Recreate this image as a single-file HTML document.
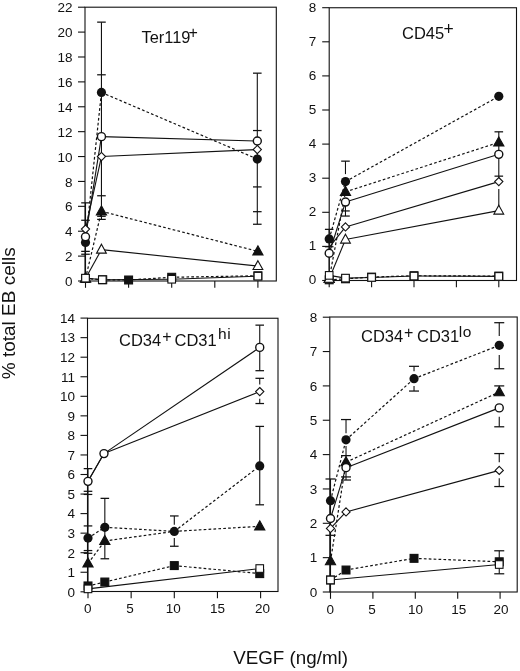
<!DOCTYPE html>
<html><head><meta charset="utf-8"><style>
html,body{margin:0;padding:0;background:#fff;}
svg{display:block;will-change:transform;}
text{font-family:"Liberation Sans",sans-serif;fill:#111;}
</style></head><body>
<svg width="520" height="671" viewBox="0 0 520 671">
<rect width="520" height="671" fill="#fff"/>
<rect x="85" y="7.2" width="191.3" height="273.8" fill="none" stroke="#111" stroke-width="1.1"/>
<line x1="78.00" y1="281.00" x2="85.00" y2="281.00" stroke="#111" stroke-width="1.1"/>
<text x="72.50" y="286.10" font-size="13.5" text-anchor="end" >0</text>
<line x1="78.00" y1="256.11" x2="85.00" y2="256.11" stroke="#111" stroke-width="1.1"/>
<text x="72.50" y="261.21" font-size="13.5" text-anchor="end" >2</text>
<line x1="78.00" y1="231.22" x2="85.00" y2="231.22" stroke="#111" stroke-width="1.1"/>
<text x="72.50" y="236.32" font-size="13.5" text-anchor="end" >4</text>
<line x1="78.00" y1="206.33" x2="85.00" y2="206.33" stroke="#111" stroke-width="1.1"/>
<text x="72.50" y="211.43" font-size="13.5" text-anchor="end" >6</text>
<line x1="78.00" y1="181.44" x2="85.00" y2="181.44" stroke="#111" stroke-width="1.1"/>
<text x="72.50" y="186.54" font-size="13.5" text-anchor="end" >8</text>
<line x1="78.00" y1="156.55" x2="85.00" y2="156.55" stroke="#111" stroke-width="1.1"/>
<text x="72.50" y="161.65" font-size="13.5" text-anchor="end" >10</text>
<line x1="78.00" y1="131.66" x2="85.00" y2="131.66" stroke="#111" stroke-width="1.1"/>
<text x="72.50" y="136.76" font-size="13.5" text-anchor="end" >12</text>
<line x1="78.00" y1="106.77" x2="85.00" y2="106.77" stroke="#111" stroke-width="1.1"/>
<text x="72.50" y="111.87" font-size="13.5" text-anchor="end" >14</text>
<line x1="78.00" y1="81.88" x2="85.00" y2="81.88" stroke="#111" stroke-width="1.1"/>
<text x="72.50" y="86.98" font-size="13.5" text-anchor="end" >16</text>
<line x1="78.00" y1="56.99" x2="85.00" y2="56.99" stroke="#111" stroke-width="1.1"/>
<text x="72.50" y="62.09" font-size="13.5" text-anchor="end" >18</text>
<line x1="78.00" y1="32.10" x2="85.00" y2="32.10" stroke="#111" stroke-width="1.1"/>
<text x="72.50" y="37.20" font-size="13.5" text-anchor="end" >20</text>
<line x1="78.00" y1="7.21" x2="85.00" y2="7.21" stroke="#111" stroke-width="1.1"/>
<text x="72.50" y="12.31" font-size="13.5" text-anchor="end" >22</text>
<line x1="85.50" y1="281.00" x2="85.50" y2="287.80" stroke="#111" stroke-width="1.1"/>
<line x1="128.60" y1="281.00" x2="128.60" y2="287.80" stroke="#111" stroke-width="1.1"/>
<line x1="171.70" y1="281.00" x2="171.70" y2="287.80" stroke="#111" stroke-width="1.1"/>
<line x1="214.80" y1="281.00" x2="214.80" y2="287.80" stroke="#111" stroke-width="1.1"/>
<line x1="257.90" y1="281.00" x2="257.90" y2="287.80" stroke="#111" stroke-width="1.1"/>
<line x1="85.50" y1="281.00" x2="85.50" y2="202.85" stroke="#111" stroke-width="1.1"/>
<line x1="81.20" y1="202.85" x2="89.80" y2="202.85" stroke="#111" stroke-width="1.25"/>
<line x1="81.20" y1="220.27" x2="89.80" y2="220.27" stroke="#111" stroke-width="1.25"/>
<line x1="81.20" y1="251.38" x2="89.80" y2="251.38" stroke="#111" stroke-width="1.25"/>
<line x1="81.20" y1="254.24" x2="89.80" y2="254.24" stroke="#111" stroke-width="1.25"/>
<line x1="101.45" y1="219.40" x2="101.45" y2="22.14" stroke="#111" stroke-width="1.1"/>
<line x1="97.15" y1="22.14" x2="105.75" y2="22.14" stroke="#111" stroke-width="1.25"/>
<line x1="97.15" y1="74.79" x2="105.75" y2="74.79" stroke="#111" stroke-width="1.25"/>
<line x1="97.15" y1="195.75" x2="105.75" y2="195.75" stroke="#111" stroke-width="1.25"/>
<line x1="97.15" y1="216.29" x2="105.75" y2="216.29" stroke="#111" stroke-width="1.25"/>
<line x1="97.15" y1="219.40" x2="105.75" y2="219.40" stroke="#111" stroke-width="1.25"/>
<line x1="257.30" y1="224.25" x2="257.30" y2="73.17" stroke="#111" stroke-width="1.1"/>
<line x1="253.00" y1="73.17" x2="261.60" y2="73.17" stroke="#111" stroke-width="1.25"/>
<line x1="253.00" y1="130.54" x2="261.60" y2="130.54" stroke="#111" stroke-width="1.25"/>
<line x1="253.00" y1="186.92" x2="261.60" y2="186.92" stroke="#111" stroke-width="1.25"/>
<line x1="253.00" y1="211.68" x2="261.60" y2="211.68" stroke="#111" stroke-width="1.25"/>
<line x1="253.00" y1="224.25" x2="261.60" y2="224.25" stroke="#111" stroke-width="1.25"/>
<line x1="85.50" y1="278.51" x2="102.74" y2="279.76" stroke="#111" stroke-width="1.2" stroke-dasharray="2.7 2.2"/>
<line x1="102.74" y1="279.76" x2="128.60" y2="280.00" stroke="#111" stroke-width="1.2" stroke-dasharray="2.7 2.2"/>
<line x1="128.60" y1="280.00" x2="171.70" y2="277.27" stroke="#111" stroke-width="1.2" stroke-dasharray="2.7 2.2"/>
<line x1="171.70" y1="277.27" x2="257.90" y2="275.77" stroke="#111" stroke-width="1.2" stroke-dasharray="2.7 2.2"/>
<line x1="85.50" y1="278.51" x2="101.45" y2="211.31" stroke="#111" stroke-width="1.2" stroke-dasharray="2.7 2.2"/>
<line x1="101.45" y1="211.31" x2="257.90" y2="251.38" stroke="#111" stroke-width="1.2" stroke-dasharray="2.7 2.2"/>
<line x1="85.50" y1="242.42" x2="101.45" y2="92.46" stroke="#111" stroke-width="1.2" stroke-dasharray="2.7 2.2"/>
<line x1="101.45" y1="92.46" x2="257.30" y2="159.04" stroke="#111" stroke-width="1.2" stroke-dasharray="2.7 2.2"/>
<line x1="85.50" y1="278.51" x2="101.45" y2="249.64" stroke="#111" stroke-width="1.1"/>
<line x1="101.45" y1="249.64" x2="257.90" y2="266.07" stroke="#111" stroke-width="1.1"/>
<line x1="85.50" y1="229.10" x2="101.45" y2="156.55" stroke="#111" stroke-width="1.1"/>
<line x1="101.45" y1="156.55" x2="257.30" y2="149.58" stroke="#111" stroke-width="1.1"/>
<line x1="85.50" y1="236.82" x2="101.45" y2="136.64" stroke="#111" stroke-width="1.1"/>
<line x1="101.45" y1="136.64" x2="257.30" y2="140.99" stroke="#111" stroke-width="1.1"/>
<line x1="85.50" y1="278.14" x2="102.31" y2="279.76" stroke="#111" stroke-width="1.1"/>
<line x1="102.31" y1="279.76" x2="171.70" y2="279.26" stroke="#111" stroke-width="1.1"/>
<line x1="171.70" y1="279.26" x2="257.90" y2="276.15" stroke="#111" stroke-width="1.1"/>
<rect x="81.55" y="274.56" width="7.90" height="7.90" fill="#111" stroke="#111" stroke-width="1.1"/>
<rect x="98.79" y="275.81" width="7.90" height="7.90" fill="#111" stroke="#111" stroke-width="1.1"/>
<rect x="124.65" y="276.05" width="7.90" height="7.90" fill="#111" stroke="#111" stroke-width="1.1"/>
<rect x="167.75" y="273.32" width="7.90" height="7.90" fill="#111" stroke="#111" stroke-width="1.1"/>
<rect x="253.95" y="271.82" width="7.90" height="7.90" fill="#111" stroke="#111" stroke-width="1.1"/>
<path d="M85.50 273.01 L90.60 282.11 L80.40 282.11 Z" fill="#111" stroke="#111" stroke-width="1.1"/>
<path d="M101.45 205.81 L106.55 214.91 L96.35 214.91 Z" fill="#111" stroke="#111" stroke-width="1.1"/>
<path d="M257.90 245.88 L263.00 254.98 L252.80 254.98 Z" fill="#111" stroke="#111" stroke-width="1.1"/>
<circle cx="85.50" cy="242.42" r="4.6" fill="#111"/>
<circle cx="101.45" cy="92.46" r="4.6" fill="#111"/>
<circle cx="257.30" cy="159.04" r="4.6" fill="#111"/>
<path d="M85.50 273.11 L90.40 282.01 L80.60 282.01 Z" fill="#fff" stroke="#111" stroke-width="1.1"/>
<path d="M101.45 244.24 L106.35 253.14 L96.55 253.14 Z" fill="#fff" stroke="#111" stroke-width="1.1"/>
<path d="M257.90 260.67 L262.80 269.57 L253.00 269.57 Z" fill="#fff" stroke="#111" stroke-width="1.1"/>
<path d="M85.50 225.00 L89.60 229.10 L85.50 233.20 L81.40 229.10 Z" fill="#fff" stroke="#111" stroke-width="1.1"/>
<path d="M101.45 152.45 L105.55 156.55 L101.45 160.65 L97.35 156.55 Z" fill="#fff" stroke="#111" stroke-width="1.1"/>
<path d="M257.30 145.48 L261.40 149.58 L257.30 153.68 L253.20 149.58 Z" fill="#fff" stroke="#111" stroke-width="1.1"/>
<circle cx="85.50" cy="236.82" r="4.0" fill="#fff" stroke="#111" stroke-width="1.4"/>
<circle cx="101.45" cy="136.64" r="4.0" fill="#fff" stroke="#111" stroke-width="1.4"/>
<circle cx="257.30" cy="140.99" r="4.0" fill="#fff" stroke="#111" stroke-width="1.4"/>
<rect x="81.70" y="274.34" width="7.60" height="7.60" fill="#fff" stroke="#111" stroke-width="1.1"/>
<rect x="98.51" y="275.96" width="7.60" height="7.60" fill="#fff" stroke="#111" stroke-width="1.1"/>
<rect x="167.90" y="275.46" width="7.60" height="7.60" fill="#fff" stroke="#111" stroke-width="1.1"/>
<rect x="254.10" y="272.35" width="7.60" height="7.60" fill="#fff" stroke="#111" stroke-width="1.1"/>
<text x="141.5" y="43.2" font-size="16.4">Ter119</text><text x="188.6" y="37.6" font-size="16">+</text>
<rect x="329.2" y="7.75" width="187.3" height="272.75" fill="none" stroke="#111" stroke-width="1.1"/>
<line x1="322.20" y1="280.50" x2="329.20" y2="280.50" stroke="#111" stroke-width="1.1"/>
<text x="316.30" y="284.30" font-size="13.5" text-anchor="end" >0</text>
<line x1="322.20" y1="246.40" x2="329.20" y2="246.40" stroke="#111" stroke-width="1.1"/>
<text x="316.30" y="250.20" font-size="13.5" text-anchor="end" >1</text>
<line x1="322.20" y1="212.30" x2="329.20" y2="212.30" stroke="#111" stroke-width="1.1"/>
<text x="316.30" y="216.10" font-size="13.5" text-anchor="end" >2</text>
<line x1="322.20" y1="178.20" x2="329.20" y2="178.20" stroke="#111" stroke-width="1.1"/>
<text x="316.30" y="182.00" font-size="13.5" text-anchor="end" >3</text>
<line x1="322.20" y1="144.10" x2="329.20" y2="144.10" stroke="#111" stroke-width="1.1"/>
<text x="316.30" y="147.90" font-size="13.5" text-anchor="end" >4</text>
<line x1="322.20" y1="110.00" x2="329.20" y2="110.00" stroke="#111" stroke-width="1.1"/>
<text x="316.30" y="113.80" font-size="13.5" text-anchor="end" >5</text>
<line x1="322.20" y1="75.90" x2="329.20" y2="75.90" stroke="#111" stroke-width="1.1"/>
<text x="316.30" y="79.70" font-size="13.5" text-anchor="end" >6</text>
<line x1="322.20" y1="41.80" x2="329.20" y2="41.80" stroke="#111" stroke-width="1.1"/>
<text x="316.30" y="45.60" font-size="13.5" text-anchor="end" >7</text>
<line x1="322.20" y1="7.70" x2="329.20" y2="7.70" stroke="#111" stroke-width="1.1"/>
<text x="316.30" y="11.50" font-size="13.5" text-anchor="end" >8</text>
<line x1="329.20" y1="280.50" x2="329.20" y2="287.30" stroke="#111" stroke-width="1.1"/>
<line x1="371.60" y1="280.50" x2="371.60" y2="287.30" stroke="#111" stroke-width="1.1"/>
<line x1="414.00" y1="280.50" x2="414.00" y2="287.30" stroke="#111" stroke-width="1.1"/>
<line x1="456.40" y1="280.50" x2="456.40" y2="287.30" stroke="#111" stroke-width="1.1"/>
<line x1="498.80" y1="280.50" x2="498.80" y2="287.30" stroke="#111" stroke-width="1.1"/>
<line x1="329.20" y1="280.50" x2="329.20" y2="229.35" stroke="#111" stroke-width="1.1"/>
<line x1="324.90" y1="229.35" x2="333.50" y2="229.35" stroke="#111" stroke-width="1.25"/>
<line x1="324.90" y1="246.74" x2="333.50" y2="246.74" stroke="#111" stroke-width="1.25"/>
<line x1="345.48" y1="174.11" x2="345.48" y2="161.15" stroke="#111" stroke-width="1.1"/>
<line x1="341.18" y1="161.15" x2="349.78" y2="161.15" stroke="#111" stroke-width="1.25"/>
<line x1="345.48" y1="216.05" x2="345.48" y2="202.07" stroke="#111" stroke-width="1.1"/>
<line x1="341.18" y1="210.94" x2="349.78" y2="210.94" stroke="#111" stroke-width="1.25"/>
<line x1="341.18" y1="216.05" x2="349.78" y2="216.05" stroke="#111" stroke-width="1.25"/>
<line x1="498.80" y1="210.59" x2="498.80" y2="189.11" stroke="#111" stroke-width="1.1"/>
<line x1="498.80" y1="181.61" x2="498.80" y2="131.82" stroke="#111" stroke-width="1.1"/>
<line x1="494.50" y1="131.82" x2="503.10" y2="131.82" stroke="#111" stroke-width="1.25"/>
<line x1="494.50" y1="176.15" x2="503.10" y2="176.15" stroke="#111" stroke-width="1.25"/>
<line x1="329.20" y1="279.82" x2="345.48" y2="278.80" stroke="#111" stroke-width="1.2" stroke-dasharray="2.7 2.2"/>
<line x1="345.48" y1="278.80" x2="371.60" y2="277.09" stroke="#111" stroke-width="1.2" stroke-dasharray="2.7 2.2"/>
<line x1="371.60" y1="277.09" x2="414.00" y2="275.73" stroke="#111" stroke-width="1.2" stroke-dasharray="2.7 2.2"/>
<line x1="414.00" y1="275.73" x2="498.80" y2="276.07" stroke="#111" stroke-width="1.2" stroke-dasharray="2.7 2.2"/>
<line x1="329.20" y1="278.80" x2="345.48" y2="191.84" stroke="#111" stroke-width="1.2" stroke-dasharray="2.7 2.2"/>
<line x1="345.48" y1="191.84" x2="498.80" y2="142.40" stroke="#111" stroke-width="1.2" stroke-dasharray="2.7 2.2"/>
<line x1="329.20" y1="238.90" x2="345.48" y2="181.61" stroke="#111" stroke-width="1.2" stroke-dasharray="2.7 2.2"/>
<line x1="345.48" y1="181.61" x2="498.80" y2="96.36" stroke="#111" stroke-width="1.2" stroke-dasharray="2.7 2.2"/>
<line x1="329.20" y1="278.80" x2="345.48" y2="239.58" stroke="#111" stroke-width="1.1"/>
<line x1="345.48" y1="239.58" x2="498.80" y2="210.59" stroke="#111" stroke-width="1.1"/>
<line x1="329.20" y1="247.42" x2="345.48" y2="226.96" stroke="#111" stroke-width="1.1"/>
<line x1="345.48" y1="226.96" x2="498.80" y2="181.61" stroke="#111" stroke-width="1.1"/>
<line x1="329.20" y1="253.22" x2="345.48" y2="202.07" stroke="#111" stroke-width="1.1"/>
<line x1="345.48" y1="202.07" x2="498.80" y2="154.33" stroke="#111" stroke-width="1.1"/>
<line x1="329.20" y1="275.38" x2="345.48" y2="278.11" stroke="#111" stroke-width="1.1"/>
<line x1="345.48" y1="278.11" x2="371.60" y2="277.43" stroke="#111" stroke-width="1.1"/>
<line x1="371.60" y1="277.43" x2="414.00" y2="276.07" stroke="#111" stroke-width="1.1"/>
<line x1="414.00" y1="276.07" x2="498.80" y2="276.41" stroke="#111" stroke-width="1.1"/>
<rect x="325.25" y="275.87" width="7.90" height="7.90" fill="#111" stroke="#111" stroke-width="1.1"/>
<rect x="341.53" y="274.85" width="7.90" height="7.90" fill="#111" stroke="#111" stroke-width="1.1"/>
<rect x="367.65" y="273.14" width="7.90" height="7.90" fill="#111" stroke="#111" stroke-width="1.1"/>
<rect x="410.05" y="271.78" width="7.90" height="7.90" fill="#111" stroke="#111" stroke-width="1.1"/>
<rect x="494.85" y="272.12" width="7.90" height="7.90" fill="#111" stroke="#111" stroke-width="1.1"/>
<path d="M329.20 273.30 L334.30 282.40 L324.10 282.40 Z" fill="#111" stroke="#111" stroke-width="1.1"/>
<path d="M345.48 186.34 L350.58 195.44 L340.38 195.44 Z" fill="#111" stroke="#111" stroke-width="1.1"/>
<path d="M498.80 136.90 L503.90 146.00 L493.70 146.00 Z" fill="#111" stroke="#111" stroke-width="1.1"/>
<circle cx="329.20" cy="238.90" r="4.6" fill="#111"/>
<circle cx="345.48" cy="181.61" r="4.6" fill="#111"/>
<circle cx="498.80" cy="96.36" r="4.6" fill="#111"/>
<path d="M329.20 273.40 L334.10 282.30 L324.30 282.30 Z" fill="#fff" stroke="#111" stroke-width="1.1"/>
<path d="M345.48 234.18 L350.38 243.08 L340.58 243.08 Z" fill="#fff" stroke="#111" stroke-width="1.1"/>
<path d="M498.80 205.19 L503.70 214.09 L493.90 214.09 Z" fill="#fff" stroke="#111" stroke-width="1.1"/>
<path d="M345.48 222.86 L349.58 226.96 L345.48 231.06 L341.38 226.96 Z" fill="#fff" stroke="#111" stroke-width="1.1"/>
<path d="M498.80 177.51 L502.90 181.61 L498.80 185.71 L494.70 181.61 Z" fill="#fff" stroke="#111" stroke-width="1.1"/>
<circle cx="329.20" cy="253.22" r="4.0" fill="#fff" stroke="#111" stroke-width="1.4"/>
<circle cx="345.48" cy="202.07" r="4.0" fill="#fff" stroke="#111" stroke-width="1.4"/>
<circle cx="498.80" cy="154.33" r="4.0" fill="#fff" stroke="#111" stroke-width="1.4"/>
<rect x="325.40" y="271.58" width="7.60" height="7.60" fill="#fff" stroke="#111" stroke-width="1.1"/>
<rect x="341.68" y="274.31" width="7.60" height="7.60" fill="#fff" stroke="#111" stroke-width="1.1"/>
<rect x="367.80" y="273.63" width="7.60" height="7.60" fill="#fff" stroke="#111" stroke-width="1.1"/>
<rect x="410.20" y="272.27" width="7.60" height="7.60" fill="#fff" stroke="#111" stroke-width="1.1"/>
<rect x="495.00" y="272.61" width="7.60" height="7.60" fill="#fff" stroke="#111" stroke-width="1.1"/>
<text x="402" y="39" font-size="16.5">CD45</text><text x="443.6" y="35.2" font-size="17.5">+</text>
<rect x="87.5" y="318.25" width="190.5" height="273.25" fill="none" stroke="#111" stroke-width="1.1"/>
<line x1="80.50" y1="591.80" x2="87.50" y2="591.80" stroke="#111" stroke-width="1.1"/>
<text x="75.00" y="596.60" font-size="13.5" text-anchor="end" >0</text>
<line x1="80.50" y1="572.25" x2="87.50" y2="572.25" stroke="#111" stroke-width="1.1"/>
<text x="75.00" y="577.05" font-size="13.5" text-anchor="end" >1</text>
<line x1="80.50" y1="552.70" x2="87.50" y2="552.70" stroke="#111" stroke-width="1.1"/>
<text x="75.00" y="557.50" font-size="13.5" text-anchor="end" >2</text>
<line x1="80.50" y1="533.15" x2="87.50" y2="533.15" stroke="#111" stroke-width="1.1"/>
<text x="75.00" y="537.95" font-size="13.5" text-anchor="end" >3</text>
<line x1="80.50" y1="513.60" x2="87.50" y2="513.60" stroke="#111" stroke-width="1.1"/>
<text x="75.00" y="518.40" font-size="13.5" text-anchor="end" >4</text>
<line x1="80.50" y1="494.05" x2="87.50" y2="494.05" stroke="#111" stroke-width="1.1"/>
<text x="75.00" y="498.85" font-size="13.5" text-anchor="end" >5</text>
<line x1="80.50" y1="474.50" x2="87.50" y2="474.50" stroke="#111" stroke-width="1.1"/>
<text x="75.00" y="479.30" font-size="13.5" text-anchor="end" >6</text>
<line x1="80.50" y1="454.95" x2="87.50" y2="454.95" stroke="#111" stroke-width="1.1"/>
<text x="75.00" y="459.75" font-size="13.5" text-anchor="end" >7</text>
<line x1="80.50" y1="435.40" x2="87.50" y2="435.40" stroke="#111" stroke-width="1.1"/>
<text x="75.00" y="440.20" font-size="13.5" text-anchor="end" >8</text>
<line x1="80.50" y1="415.85" x2="87.50" y2="415.85" stroke="#111" stroke-width="1.1"/>
<text x="75.00" y="420.65" font-size="13.5" text-anchor="end" >9</text>
<line x1="80.50" y1="396.30" x2="87.50" y2="396.30" stroke="#111" stroke-width="1.1"/>
<text x="75.00" y="401.10" font-size="13.5" text-anchor="end" >10</text>
<line x1="80.50" y1="376.75" x2="87.50" y2="376.75" stroke="#111" stroke-width="1.1"/>
<text x="75.00" y="381.55" font-size="13.5" text-anchor="end" >11</text>
<line x1="80.50" y1="357.20" x2="87.50" y2="357.20" stroke="#111" stroke-width="1.1"/>
<text x="75.00" y="362.00" font-size="13.5" text-anchor="end" >12</text>
<line x1="80.50" y1="337.65" x2="87.50" y2="337.65" stroke="#111" stroke-width="1.1"/>
<text x="75.00" y="342.45" font-size="13.5" text-anchor="end" >13</text>
<line x1="80.50" y1="318.10" x2="87.50" y2="318.10" stroke="#111" stroke-width="1.1"/>
<text x="75.00" y="322.90" font-size="13.5" text-anchor="end" >14</text>
<line x1="88.00" y1="591.50" x2="88.00" y2="598.30" stroke="#111" stroke-width="1.1"/>
<text x="87.80" y="613.10" font-size="13.5" text-anchor="middle" >0</text>
<line x1="131.15" y1="591.50" x2="131.15" y2="598.30" stroke="#111" stroke-width="1.1"/>
<text x="130.10" y="613.10" font-size="13.5" text-anchor="middle" >5</text>
<line x1="174.30" y1="591.50" x2="174.30" y2="598.30" stroke="#111" stroke-width="1.1"/>
<text x="173.20" y="613.10" font-size="13.5" text-anchor="middle" >10</text>
<line x1="217.45" y1="591.50" x2="217.45" y2="598.30" stroke="#111" stroke-width="1.1"/>
<text x="217.60" y="613.10" font-size="13.5" text-anchor="middle" >15</text>
<line x1="260.60" y1="591.50" x2="260.60" y2="598.30" stroke="#111" stroke-width="1.1"/>
<text x="262.50" y="613.10" font-size="13.5" text-anchor="middle" >20</text>
<line x1="88.00" y1="591.80" x2="88.00" y2="468.63" stroke="#111" stroke-width="1.1"/>
<line x1="83.70" y1="468.63" x2="92.30" y2="468.63" stroke="#111" stroke-width="1.25"/>
<line x1="83.70" y1="491.31" x2="92.30" y2="491.31" stroke="#111" stroke-width="1.25"/>
<line x1="83.70" y1="494.44" x2="92.30" y2="494.44" stroke="#111" stroke-width="1.25"/>
<line x1="83.70" y1="525.92" x2="92.30" y2="525.92" stroke="#111" stroke-width="1.25"/>
<line x1="83.70" y1="550.55" x2="92.30" y2="550.55" stroke="#111" stroke-width="1.25"/>
<line x1="83.70" y1="553.29" x2="92.30" y2="553.29" stroke="#111" stroke-width="1.25"/>
<line x1="104.83" y1="558.76" x2="104.83" y2="498.35" stroke="#111" stroke-width="1.1"/>
<line x1="100.53" y1="498.35" x2="109.13" y2="498.35" stroke="#111" stroke-width="1.25"/>
<line x1="100.53" y1="558.76" x2="109.13" y2="558.76" stroke="#111" stroke-width="1.25"/>
<line x1="174.30" y1="524.74" x2="174.30" y2="515.95" stroke="#111" stroke-width="1.1"/>
<line x1="170.00" y1="515.95" x2="178.60" y2="515.95" stroke="#111" stroke-width="1.25"/>
<line x1="174.30" y1="546.25" x2="174.30" y2="538.04" stroke="#111" stroke-width="1.1"/>
<line x1="170.00" y1="546.25" x2="178.60" y2="546.25" stroke="#111" stroke-width="1.25"/>
<line x1="259.74" y1="504.80" x2="259.74" y2="426.41" stroke="#111" stroke-width="1.1"/>
<line x1="255.44" y1="426.41" x2="264.04" y2="426.41" stroke="#111" stroke-width="1.25"/>
<line x1="255.44" y1="504.80" x2="264.04" y2="504.80" stroke="#111" stroke-width="1.25"/>
<line x1="259.74" y1="370.69" x2="259.74" y2="325.14" stroke="#111" stroke-width="1.1"/>
<line x1="255.44" y1="325.14" x2="264.04" y2="325.14" stroke="#111" stroke-width="1.25"/>
<line x1="255.44" y1="370.69" x2="264.04" y2="370.69" stroke="#111" stroke-width="1.25"/>
<line x1="259.74" y1="384.57" x2="259.74" y2="378.31" stroke="#111" stroke-width="1.1"/>
<line x1="255.44" y1="378.31" x2="264.04" y2="378.31" stroke="#111" stroke-width="1.25"/>
<line x1="259.74" y1="403.53" x2="259.74" y2="398.65" stroke="#111" stroke-width="1.1"/>
<line x1="255.44" y1="403.53" x2="264.04" y2="403.53" stroke="#111" stroke-width="1.25"/>
<line x1="88.00" y1="585.93" x2="104.83" y2="582.02" stroke="#111" stroke-width="1.2" stroke-dasharray="2.7 2.2"/>
<line x1="104.83" y1="582.02" x2="174.30" y2="565.60" stroke="#111" stroke-width="1.2" stroke-dasharray="2.7 2.2"/>
<line x1="174.30" y1="565.60" x2="259.74" y2="573.62" stroke="#111" stroke-width="1.2" stroke-dasharray="2.7 2.2"/>
<line x1="88.00" y1="563.45" x2="104.83" y2="540.97" stroke="#111" stroke-width="1.2" stroke-dasharray="2.7 2.2"/>
<line x1="104.83" y1="540.97" x2="174.30" y2="531.39" stroke="#111" stroke-width="1.2" stroke-dasharray="2.7 2.2"/>
<line x1="174.30" y1="531.39" x2="259.74" y2="526.31" stroke="#111" stroke-width="1.2" stroke-dasharray="2.7 2.2"/>
<line x1="88.00" y1="538.04" x2="104.83" y2="527.28" stroke="#111" stroke-width="1.2" stroke-dasharray="2.7 2.2"/>
<line x1="104.83" y1="527.28" x2="174.30" y2="531.39" stroke="#111" stroke-width="1.2" stroke-dasharray="2.7 2.2"/>
<line x1="174.30" y1="531.39" x2="259.74" y2="465.90" stroke="#111" stroke-width="1.2" stroke-dasharray="2.7 2.2"/>
<line x1="88.00" y1="481.34" x2="103.97" y2="453.58" stroke="#111" stroke-width="1.1"/>
<line x1="103.97" y1="453.58" x2="259.74" y2="391.61" stroke="#111" stroke-width="1.1"/>
<line x1="88.00" y1="481.34" x2="103.97" y2="453.58" stroke="#111" stroke-width="1.1"/>
<line x1="103.97" y1="453.58" x2="259.74" y2="347.42" stroke="#111" stroke-width="1.1"/>
<line x1="88.00" y1="588.87" x2="259.74" y2="568.54" stroke="#111" stroke-width="1.1"/>
<rect x="84.05" y="581.98" width="7.90" height="7.90" fill="#111" stroke="#111" stroke-width="1.1"/>
<rect x="100.88" y="578.07" width="7.90" height="7.90" fill="#111" stroke="#111" stroke-width="1.1"/>
<rect x="170.35" y="561.65" width="7.90" height="7.90" fill="#111" stroke="#111" stroke-width="1.1"/>
<rect x="255.79" y="569.67" width="7.90" height="7.90" fill="#111" stroke="#111" stroke-width="1.1"/>
<path d="M88.00 557.95 L93.10 567.05 L82.90 567.05 Z" fill="#111" stroke="#111" stroke-width="1.1"/>
<path d="M104.83 535.47 L109.93 544.57 L99.73 544.57 Z" fill="#111" stroke="#111" stroke-width="1.1"/>
<path d="M259.74 520.81 L264.84 529.91 L254.64 529.91 Z" fill="#111" stroke="#111" stroke-width="1.1"/>
<circle cx="88.00" cy="538.04" r="4.6" fill="#111"/>
<circle cx="104.83" cy="527.28" r="4.6" fill="#111"/>
<circle cx="174.30" cy="531.39" r="4.6" fill="#111"/>
<circle cx="259.74" cy="465.90" r="4.6" fill="#111"/>
<path d="M259.74 387.51 L263.84 391.61 L259.74 395.71 L255.64 391.61 Z" fill="#fff" stroke="#111" stroke-width="1.1"/>
<circle cx="88.00" cy="481.34" r="4.0" fill="#fff" stroke="#111" stroke-width="1.4"/>
<circle cx="103.97" cy="453.58" r="4.0" fill="#fff" stroke="#111" stroke-width="1.4"/>
<circle cx="259.74" cy="347.42" r="4.0" fill="#fff" stroke="#111" stroke-width="1.4"/>
<rect x="84.20" y="585.07" width="7.60" height="7.60" fill="#fff" stroke="#111" stroke-width="1.1"/>
<rect x="255.94" y="564.74" width="7.60" height="7.60" fill="#fff" stroke="#111" stroke-width="1.1"/>
<text x="119" y="345.5" font-size="16.5">CD34</text><text x="162.3" y="342" font-size="16">+</text><text x="174.5" y="345.5" font-size="16.5">CD31</text><text x="218" y="339.3" font-size="15.5" letter-spacing="0.6">hi</text>
<rect x="329.8" y="317" width="187.40000000000003" height="275" fill="none" stroke="#111" stroke-width="1.1"/>
<line x1="322.80" y1="592.00" x2="329.80" y2="592.00" stroke="#111" stroke-width="1.1"/>
<text x="317.30" y="596.80" font-size="13.5" text-anchor="end" >0</text>
<line x1="322.80" y1="557.65" x2="329.80" y2="557.65" stroke="#111" stroke-width="1.1"/>
<text x="317.30" y="562.45" font-size="13.5" text-anchor="end" >1</text>
<line x1="322.80" y1="523.30" x2="329.80" y2="523.30" stroke="#111" stroke-width="1.1"/>
<text x="317.30" y="528.10" font-size="13.5" text-anchor="end" >2</text>
<line x1="322.80" y1="488.95" x2="329.80" y2="488.95" stroke="#111" stroke-width="1.1"/>
<text x="317.30" y="493.75" font-size="13.5" text-anchor="end" >3</text>
<line x1="322.80" y1="454.60" x2="329.80" y2="454.60" stroke="#111" stroke-width="1.1"/>
<text x="317.30" y="459.40" font-size="13.5" text-anchor="end" >4</text>
<line x1="322.80" y1="420.25" x2="329.80" y2="420.25" stroke="#111" stroke-width="1.1"/>
<text x="317.30" y="425.05" font-size="13.5" text-anchor="end" >5</text>
<line x1="322.80" y1="385.90" x2="329.80" y2="385.90" stroke="#111" stroke-width="1.1"/>
<text x="317.30" y="390.70" font-size="13.5" text-anchor="end" >6</text>
<line x1="322.80" y1="351.55" x2="329.80" y2="351.55" stroke="#111" stroke-width="1.1"/>
<text x="317.30" y="356.35" font-size="13.5" text-anchor="end" >7</text>
<line x1="322.80" y1="317.20" x2="329.80" y2="317.20" stroke="#111" stroke-width="1.1"/>
<text x="317.30" y="322.00" font-size="13.5" text-anchor="end" >8</text>
<line x1="330.50" y1="592.00" x2="330.50" y2="598.80" stroke="#111" stroke-width="1.1"/>
<text x="330.20" y="613.60" font-size="13.5" text-anchor="middle" >0</text>
<line x1="372.90" y1="592.00" x2="372.90" y2="598.80" stroke="#111" stroke-width="1.1"/>
<text x="372.10" y="613.60" font-size="13.5" text-anchor="middle" >5</text>
<line x1="415.30" y1="592.00" x2="415.30" y2="598.80" stroke="#111" stroke-width="1.1"/>
<text x="415.50" y="613.60" font-size="13.5" text-anchor="middle" >10</text>
<line x1="457.70" y1="592.00" x2="457.70" y2="598.80" stroke="#111" stroke-width="1.1"/>
<text x="458.80" y="613.60" font-size="13.5" text-anchor="middle" >15</text>
<line x1="500.10" y1="592.00" x2="500.10" y2="598.80" stroke="#111" stroke-width="1.1"/>
<text x="501.10" y="613.60" font-size="13.5" text-anchor="middle" >20</text>
<line x1="330.50" y1="592.00" x2="330.50" y2="478.99" stroke="#111" stroke-width="1.1"/>
<line x1="325.50" y1="478.99" x2="335.50" y2="478.99" stroke="#111" stroke-width="1.25"/>
<line x1="325.50" y1="535.32" x2="335.50" y2="535.32" stroke="#111" stroke-width="1.25"/>
<line x1="346.02" y1="433.30" x2="346.02" y2="419.56" stroke="#111" stroke-width="1.1"/>
<line x1="341.02" y1="419.56" x2="351.02" y2="419.56" stroke="#111" stroke-width="1.25"/>
<line x1="346.02" y1="480.02" x2="346.02" y2="446.01" stroke="#111" stroke-width="1.1"/>
<line x1="341.02" y1="455.63" x2="351.02" y2="455.63" stroke="#111" stroke-width="1.25"/>
<line x1="341.02" y1="476.93" x2="351.02" y2="476.93" stroke="#111" stroke-width="1.25"/>
<line x1="341.02" y1="480.02" x2="351.02" y2="480.02" stroke="#111" stroke-width="1.25"/>
<line x1="414.03" y1="371.13" x2="414.03" y2="366.32" stroke="#111" stroke-width="1.1"/>
<line x1="409.03" y1="366.32" x2="419.03" y2="366.32" stroke="#111" stroke-width="1.25"/>
<line x1="414.03" y1="391.05" x2="414.03" y2="385.90" stroke="#111" stroke-width="1.1"/>
<line x1="409.03" y1="391.05" x2="419.03" y2="391.05" stroke="#111" stroke-width="1.25"/>
<line x1="499.25" y1="336.09" x2="499.25" y2="322.70" stroke="#111" stroke-width="1.1"/>
<line x1="494.25" y1="322.70" x2="504.25" y2="322.70" stroke="#111" stroke-width="1.25"/>
<line x1="499.25" y1="368.73" x2="499.25" y2="354.99" stroke="#111" stroke-width="1.1"/>
<line x1="494.25" y1="368.73" x2="504.25" y2="368.73" stroke="#111" stroke-width="1.25"/>
<line x1="499.25" y1="389.33" x2="499.25" y2="385.90" stroke="#111" stroke-width="1.1"/>
<line x1="494.25" y1="385.90" x2="504.25" y2="385.90" stroke="#111" stroke-width="1.25"/>
<line x1="499.25" y1="426.78" x2="499.25" y2="416.81" stroke="#111" stroke-width="1.1"/>
<line x1="494.25" y1="426.78" x2="504.25" y2="426.78" stroke="#111" stroke-width="1.25"/>
<line x1="499.25" y1="462.16" x2="499.25" y2="453.57" stroke="#111" stroke-width="1.1"/>
<line x1="494.25" y1="453.57" x2="504.25" y2="453.57" stroke="#111" stroke-width="1.25"/>
<line x1="499.25" y1="486.55" x2="499.25" y2="478.30" stroke="#111" stroke-width="1.1"/>
<line x1="494.25" y1="486.55" x2="504.25" y2="486.55" stroke="#111" stroke-width="1.25"/>
<line x1="499.25" y1="573.79" x2="499.25" y2="550.78" stroke="#111" stroke-width="1.1"/>
<line x1="494.25" y1="550.78" x2="504.25" y2="550.78" stroke="#111" stroke-width="1.25"/>
<line x1="494.25" y1="573.79" x2="504.25" y2="573.79" stroke="#111" stroke-width="1.25"/>
<line x1="330.50" y1="579.98" x2="346.02" y2="570.02" stroke="#111" stroke-width="1.2" stroke-dasharray="2.7 2.2"/>
<line x1="346.02" y1="570.02" x2="414.03" y2="558.34" stroke="#111" stroke-width="1.2" stroke-dasharray="2.7 2.2"/>
<line x1="414.03" y1="558.34" x2="499.25" y2="561.77" stroke="#111" stroke-width="1.2" stroke-dasharray="2.7 2.2"/>
<line x1="330.50" y1="561.09" x2="346.02" y2="462.16" stroke="#111" stroke-width="1.2" stroke-dasharray="2.7 2.2"/>
<line x1="346.02" y1="462.16" x2="499.25" y2="392.08" stroke="#111" stroke-width="1.2" stroke-dasharray="2.7 2.2"/>
<line x1="330.50" y1="500.63" x2="346.02" y2="439.83" stroke="#111" stroke-width="1.2" stroke-dasharray="2.7 2.2"/>
<line x1="346.02" y1="439.83" x2="414.03" y2="378.69" stroke="#111" stroke-width="1.2" stroke-dasharray="2.7 2.2"/>
<line x1="414.03" y1="378.69" x2="499.25" y2="345.37" stroke="#111" stroke-width="1.2" stroke-dasharray="2.7 2.2"/>
<line x1="330.50" y1="528.45" x2="346.02" y2="511.96" stroke="#111" stroke-width="1.1"/>
<line x1="346.02" y1="511.96" x2="499.25" y2="470.40" stroke="#111" stroke-width="1.1"/>
<line x1="330.50" y1="518.49" x2="346.02" y2="467.65" stroke="#111" stroke-width="1.1"/>
<line x1="346.02" y1="467.65" x2="499.25" y2="407.88" stroke="#111" stroke-width="1.1"/>
<line x1="330.50" y1="579.98" x2="499.25" y2="564.52" stroke="#111" stroke-width="1.1"/>
<rect x="326.55" y="576.03" width="7.90" height="7.90" fill="#111" stroke="#111" stroke-width="1.1"/>
<rect x="342.07" y="566.07" width="7.90" height="7.90" fill="#111" stroke="#111" stroke-width="1.1"/>
<rect x="410.08" y="554.39" width="7.90" height="7.90" fill="#111" stroke="#111" stroke-width="1.1"/>
<rect x="495.30" y="557.82" width="7.90" height="7.90" fill="#111" stroke="#111" stroke-width="1.1"/>
<path d="M330.50 555.59 L335.60 564.69 L325.40 564.69 Z" fill="#111" stroke="#111" stroke-width="1.1"/>
<path d="M346.02 456.66 L351.12 465.76 L340.92 465.76 Z" fill="#111" stroke="#111" stroke-width="1.1"/>
<path d="M499.25 386.58 L504.35 395.68 L494.15 395.68 Z" fill="#111" stroke="#111" stroke-width="1.1"/>
<circle cx="330.50" cy="500.63" r="4.6" fill="#111"/>
<circle cx="346.02" cy="439.83" r="4.6" fill="#111"/>
<circle cx="414.03" cy="378.69" r="4.6" fill="#111"/>
<circle cx="499.25" cy="345.37" r="4.6" fill="#111"/>
<path d="M330.50 524.35 L334.60 528.45 L330.50 532.55 L326.40 528.45 Z" fill="#fff" stroke="#111" stroke-width="1.1"/>
<path d="M346.02 507.86 L350.12 511.96 L346.02 516.06 L341.92 511.96 Z" fill="#fff" stroke="#111" stroke-width="1.1"/>
<path d="M499.25 466.30 L503.35 470.40 L499.25 474.50 L495.15 470.40 Z" fill="#fff" stroke="#111" stroke-width="1.1"/>
<circle cx="330.50" cy="518.49" r="4.0" fill="#fff" stroke="#111" stroke-width="1.4"/>
<circle cx="346.02" cy="467.65" r="4.0" fill="#fff" stroke="#111" stroke-width="1.4"/>
<circle cx="499.25" cy="407.88" r="4.0" fill="#fff" stroke="#111" stroke-width="1.4"/>
<rect x="326.70" y="576.18" width="7.60" height="7.60" fill="#fff" stroke="#111" stroke-width="1.1"/>
<rect x="495.45" y="560.72" width="7.60" height="7.60" fill="#fff" stroke="#111" stroke-width="1.1"/>
<text x="361" y="342.2" font-size="16.5">CD34</text><text x="404" y="338.2" font-size="16">+</text><text x="417" y="342.2" font-size="16.5">CD31</text><text x="458.8" y="337" font-size="15.5" letter-spacing="0.6">lo</text>
<text transform="translate(15,313.25) rotate(-90)" font-size="19" text-anchor="middle">% total EB cells</text>
<text x="290.6" y="664.3" font-size="18.8" text-anchor="middle">VEGF (ng/ml)</text>
</svg></body></html>
